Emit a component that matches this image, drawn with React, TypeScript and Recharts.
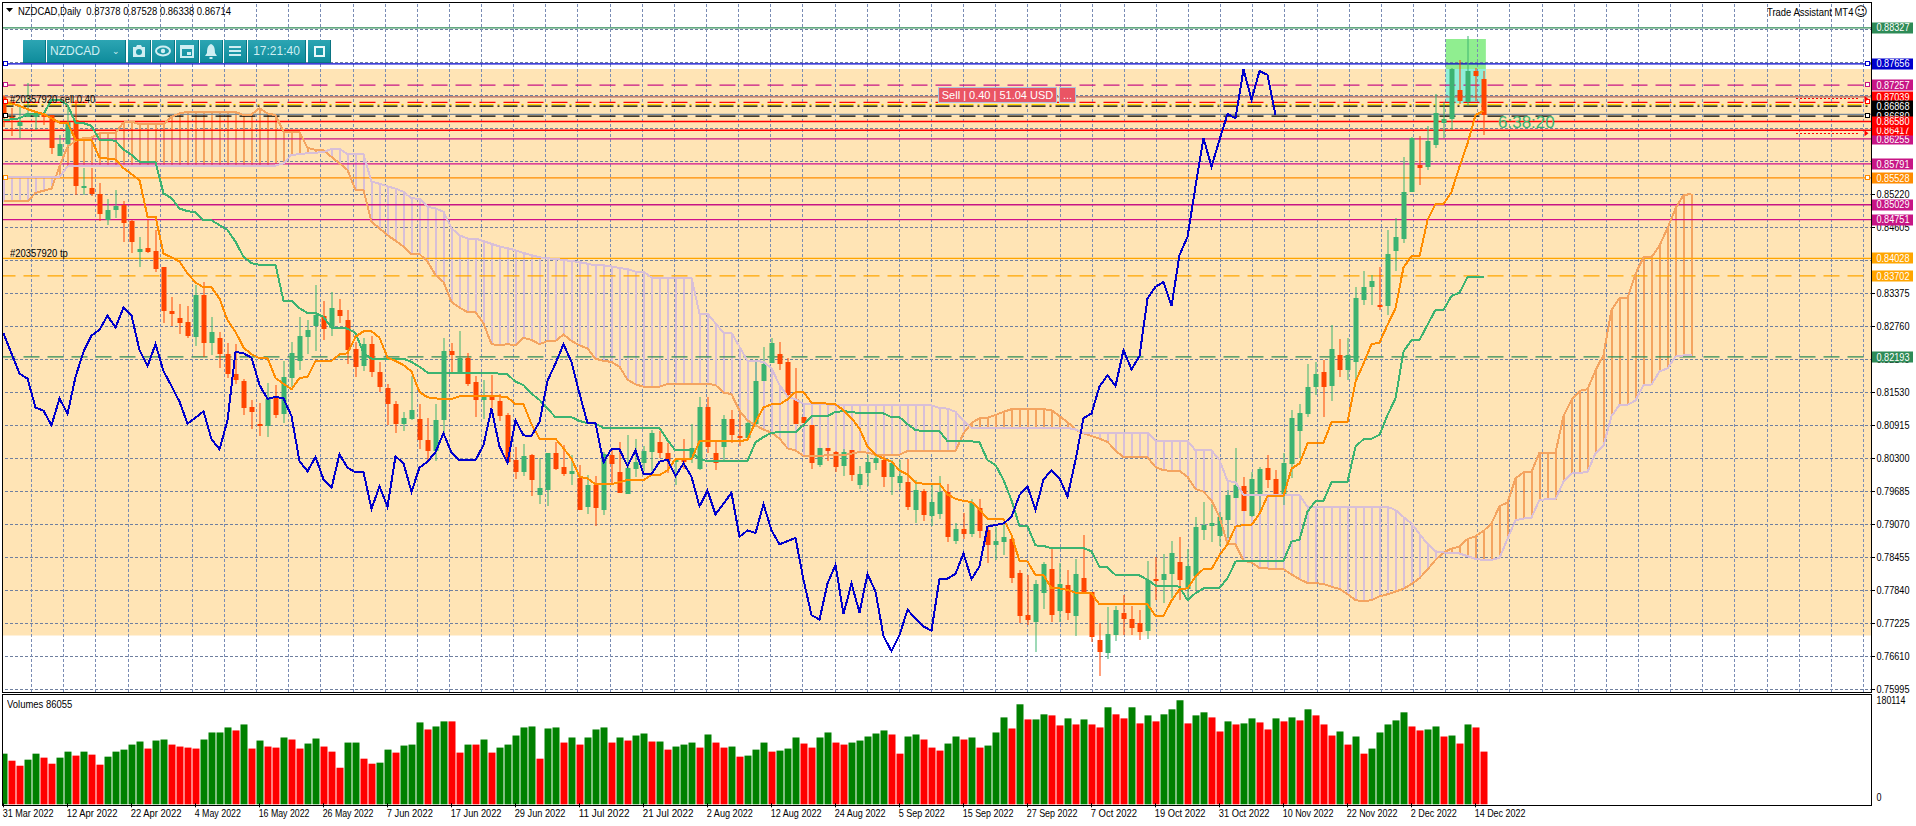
import React from 'react';
import { ComposedChart, Bar, Line, XAxis, YAxis, ReferenceLine, ReferenceArea, ReferenceDot, Cell } from 'recharts';

// all prices below are in 1/10000 units (8704 = 0.8704)
const opens = [
  8704,8667,8650,8667,8666,8670,8671,8594,8616,8661,
  8534,8535,8523,8474,8494,8502,8473,8415,8422,8417,
  8387,8305,8291,8284,8257,8334,8246,8255,8224,8188,
  8175,8126,8094,8091,8144,8113,8180,8212,8256,8277,
  8295,8274,8306,8289,8234,8202,8244,8192,8162,8132,
  8095,8103,8103,8065,8044,8101,8230,8188,8217,8172,
  8139,8145,8137,8111,8027,8005,8036,7962,7971,8040,
  8014,8001,7993,7939,7980,7934,8036,8004,7963,8010,
  8021,8042,8060,8040,8024,8028,8030,8010,8126,8040,
  8052,8103,8072,8068,8095,8174,8208,8224,8210,8140,
  8107,8092,8018,8049,8042,8016,8045,7980,8003,8021,
  8027,7995,7984,7986,7934,7969,7923,7926,7967,7876,
  7898,7889,7937,7896,7868,7874,7880,7816,7738,7726,
  7779,7825,7745,7794,7737,7807,7782,7692,7668,7701,
  7743,7731,7723,7709,7806,7804,7814,7837,7786,7811,
  7896,7904,7885,7916,7957,7978,7923,7964,8012,7991,
  7960,8019,8081,8113,8163,8191,8165,8223,8195,8210,
  8325,8350,8316,8314,8417,8439,8527,8577,8574,8614,
  8656,8662,8717,8695,8752,8738,
];
const highs = [
  8707,8683,8686,8729,8674,8673,8671,8633,8686,8698,
  8571,8571,8544,8513,8530,8509,8474,8443,8474,8456,
  8387,8331,8318,8314,8353,8359,8293,8265,8246,8244,
  8179,8139,8134,8170,8167,8211,8247,8293,8288,8353,
  8323,8341,8328,8306,8247,8254,8259,8209,8169,8137,
  8116,8183,8131,8105,8131,8254,8246,8267,8226,8183,
  8176,8185,8151,8114,8052,8057,8038,8030,8040,8061,
  8055,8037,8018,7999,7997,8042,8049,8060,8073,8066,
  8054,8084,8081,8058,8030,8066,8094,8144,8144,8061,
  8111,8120,8120,8101,8216,8237,8254,8247,8218,8198,
  8107,8092,8049,8049,8044,8047,8045,8016,8037,8036,
  8039,8027,8027,8029,7990,7974,7983,7997,7983,7910,
  7929,7955,7954,7903,7903,7908,7885,7822,7813,7804,
  7838,7862,7836,7822,7842,7887,7782,7723,7754,7755,
  7776,7755,7748,7839,7847,7852,7877,7884,7862,7921,
  7949,7946,7931,7971,8050,7995,8005,8014,8036,8009,
  8041,8120,8131,8206,8210,8213,8278,8252,8254,8350,
  8380,8372,8387,8456,8479,8591,8630,8631,8650,8709,
  8695,8757,8773,8817,8757,8753,
];
const lows = [
  8648,8630,8627,8667,8642,8650,8599,8594,8608,8521,
  8521,8518,8474,8465,8478,8432,8412,8387,8412,8378,
  8283,8277,8262,8254,8239,8219,8223,8197,8181,8169,
  8111,8085,8072,8070,8106,8096,8163,8195,8224,8230,
  8250,8259,8283,8206,8182,8193,8182,8154,8092,8078,
  8080,8101,8047,8026,8024,8077,8190,8188,8165,8106,
  8103,8123,8101,8022,7993,7998,7960,7945,7942,8008,
  7997,7982,7934,7926,7904,7924,7983,7965,7963,7995,
  8008,8008,8030,8002,7980,8011,8021,8008,8039,8008,
  8027,8058,8052,8068,8089,8174,8208,8195,8148,8094,
  8095,8010,8014,8025,8004,7996,7988,7973,7980,8008,
  7978,7962,7971,7934,7909,7915,7904,7916,7875,7870,
  7880,7884,7881,7835,7842,7850,7797,7723,7720,7670,
  7751,7726,7726,7728,7699,7779,7689,7625,7658,7689,
  7701,7701,7692,7694,7766,7760,7770,7766,7766,7785,
  7878,7876,7867,7881,7957,7932,7922,7930,7974,7960,
  7945,7994,8030,8108,8149,8106,8136,8182,8176,8176,
  8316,8316,8307,8297,8380,8431,8527,8540,8568,8608,
  8628,8642,8691,8686,8695,8634,
];
const closes = [
  8670,8662,8658,8673,8670,8667,8609,8616,8658,8537,
  8537,8523,8486,8494,8500,8468,8434,8420,8414,8384,
  8305,8300,8283,8259,8334,8246,8265,8225,8188,8176,
  8124,8116,8090,8140,8111,8181,8226,8258,8270,8297,
  8271,8311,8296,8232,8201,8244,8191,8164,8131,8095,
  8105,8120,8064,8044,8101,8230,8223,8217,8169,8139,
  8146,8139,8109,8024,8005,8034,7990,7975,8040,8011,
  8001,8006,7934,7980,7937,8039,8019,7965,8012,8024,
  8044,8077,8040,8026,8027,8026,8050,8126,8052,8022,
  8103,8073,8070,8097,8174,8207,8245,8206,8148,8094,
  8096,8021,8049,8044,8014,8042,7999,8001,8023,8030,
  7995,8021,7997,7939,7971,7924,7949,7967,7884,7898,
  7889,7947,7895,7868,7876,7883,7808,7737,7729,7796,
  7834,7738,7797,7743,7815,7782,7697,7670,7703,7748,
  7731,7715,7707,7804,7804,7815,7853,7804,7829,7903,
  7906,7909,7921,7962,7980,7932,7991,8010,7990,7960,
  8021,8105,8114,8163,8187,8163,8234,8195,8223,8329,
  8349,8361,8313,8411,8443,8527,8627,8572,8622,8673,
  8662,8756,8696,8752,8743,8671,
];
const tenkan = [
  8692,8692,8687,8681,8676,8672,8664,8656,8656,8624,
  8624,8624,8591,8589,8587,8571,8560,8549,8481,8481,
  8412,8405,8397,8375,8358,8349,8349,8328,8288,8266,
  8237,8224,8217,8217,8180,8169,8159,8180,8182,8212,
  8212,8212,8224,8226,8257,8267,8267,8255,8218,8212,
  8204,8192,8154,8144,8142,8141,8141,8146,8146,8146,
  8146,8146,8146,8144,8131,8131,8094,8067,8067,8067,
  8049,8030,7996,7993,7982,7982,7982,7986,7990,7990,
  7990,7999,7999,8008,8029,8029,8029,8062,8062,8062,
  8062,8062,8062,8065,8098,8125,8131,8131,8140,8154,
  8154,8134,8134,8132,8131,8120,8105,8086,8052,8037,
  8030,8024,8008,8000,7985,7983,7983,7983,7963,7955,
  7951,7949,7935,7918,7918,7917,7887,7839,7838,7813,
  7813,7788,7788,7785,7780,7780,7779,7758,7758,7758,
  7758,7758,7758,7758,7737,7737,7765,7786,7788,7810,
  7824,7824,7850,7870,7903,7906,7906,7927,7960,7960,
  7960,8011,8021,8058,8059,8059,8098,8098,8098,8173,
  8207,8243,8246,8279,8310,8386,8407,8407,8474,8504,
  8504,8527,8574,8617,8670,8678,
];
const kijun = [
  8661,8662,8664,8672,8672,8672,8698,8698,8689,8656,
  8655,8650,8624,8624,8622,8606,8596,8583,8583,8583,
  8524,8515,8496,8491,8489,8474,8474,8465,8456,8434,
  8406,8394,8391,8391,8391,8324,8324,8310,8301,8301,
  8294,8274,8274,8272,8264,8226,8216,8216,8216,8216,
  8216,8210,8201,8190,8190,8190,8190,8190,8190,8190,
  8190,8190,8188,8187,8173,8167,8151,8139,8123,8107,
  8107,8107,8100,8096,8095,8087,8087,8087,8087,8087,
  8087,8087,8087,8064,8045,8045,8045,8027,8026,8026,
  8026,8026,8026,8026,8060,8070,8078,8079,8079,8079,
  8092,8109,8109,8109,8117,8118,8117,8114,8114,8114,
  8114,8107,8107,8094,8083,8081,8081,8081,8062,8062,
  8062,8062,8060,8027,8018,7990,7952,7904,7904,7868,
  7867,7863,7863,7863,7863,7863,7857,7828,7827,7813,
  7812,7812,7812,7804,7793,7793,7793,7791,7766,7779,
  7788,7789,7789,7807,7838,7839,7839,7839,7839,7839,
  7839,7875,7879,7931,7951,7951,7986,7986,7986,8052,
  8066,8067,8074,8111,8142,8229,8251,8251,8279,8307,
  8307,8333,8339,8368,8368,8368,
];
const chikou = [
  8263,8226,8188,8179,8125,8119,8092,8142,8113,8182,
  8229,8259,8270,8296,8274,8311,8297,8232,8202,8243,
  8193,8165,8136,8095,8106,8118,8066,8047,8101,8229,
  8226,8218,8167,8141,8145,8142,8109,8025,8006,8033,
  7991,7975,8038,8013,8004,8005,7936,7978,7940,8034,
  8021,7968,8013,8024,8042,8077,8041,8027,8027,8027,
  8055,8123,8052,8022,8101,8073,8072,8098,8175,8207,
  8243,8210,8151,8096,8096,8023,8048,8047,8016,8045,
  8001,8001,8024,8028,7997,8021,7996,7941,7970,7926,
  7946,7966,7884,7896,7891,7945,7896,7870,7876,7882,
  7804,7738,7730,7797,7832,7740,7797,7743,7815,7782,
  7699,7671,7701,7748,7732,7717,7709,7806,7806,7815,
  7853,7805,7829,7903,7906,7909,7921,7962,7978,7934,
  7991,8008,7993,7959,8027,8105,8114,8164,8185,8165,
  8232,8196,8221,8328,8350,8359,8314,8409,8443,8537,
  8627,8574,8624,8672,8664,8755,8699,8752,8745,8670,
];
const senkouA = [
  8509,8509,8509,8509,8525,8529,8533,8574,8611,8622,
  8627,8628,8636,8637,8637,8656,8658,8653,8653,8653,
  8653,8667,8673,8676,8676,8676,8676,8676,8676,8676,
  8670,8671,8683,8673,8670,8639,8638,8638,8609,8605,
  8605,8592,8580,8568,8530,8530,8471,8459,8446,8436,
  8425,8411,8411,8397,8372,8359,8322,8311,8303,8303,
  8282,8243,8241,8243,8241,8255,8251,8243,8249,8249,
  8261,8249,8241,8235,8216,8212,8210,8201,8177,8168,
  8164,8164,8164,8169,8169,8169,8169,8169,8169,8167,
  8153,8150,8119,8101,8092,8084,8078,8067,8049,8045,
  8035,8035,8035,8036,8036,8036,8039,8042,8041,8037,
  8036,8036,8037,8044,8044,8044,8044,8044,8044,8044,
  8077,8096,8105,8106,8111,8117,8122,8122,8122,8122,
  8122,8120,8109,8098,8084,8077,8072,8067,8061,8045,
  8032,8032,8032,8032,8014,8008,8007,8007,7996,7973,
  7968,7952,7921,7871,7870,7840,7836,7826,7825,7824,
  7824,7814,7805,7798,7798,7796,7791,7787,7777,7766,
  7764,7766,7773,7777,7782,7787,7796,7807,7823,7841,
  7855,7862,7866,7880,7885,7895,7909,7941,7948,7993,
  8004,8005,8041,8041,8041,8109,8139,8156,8159,8194,
  8223,8307,8329,8329,8374,8405,8405,8427,8459,8496,
  8521,8523,
];
const senkouB = [
  8555,8555,8555,8555,8555,8555,8555,8555,8574,8576,
  8576,8576,8576,8576,8576,8576,8576,8576,8576,8576,
  8576,8576,8576,8576,8576,8576,8576,8576,8576,8576,
  8576,8576,8576,8576,8576,8580,8596,8597,8599,8600,
  8601,8607,8607,8597,8597,8597,8546,8542,8537,8533,
  8527,8515,8514,8499,8496,8490,8459,8446,8440,8440,
  8435,8430,8425,8422,8418,8413,8409,8405,8403,8402,
  8400,8398,8396,8393,8390,8390,8388,8385,8383,8378,
  8378,8367,8367,8367,8367,8367,8367,8300,8300,8282,
  8264,8264,8238,8212,8212,8210,8198,8167,8146,8140,
  8132,8132,8132,8131,8129,8129,8129,8129,8129,8129,
  8129,8129,8129,8129,8129,8129,8129,8124,8123,8117,
  8101,8087,8087,8087,8087,8087,8087,8087,8087,8087,
  8087,8087,8087,8087,8084,8078,8078,8078,8078,8078,
  8078,8078,8078,8078,8063,8063,8063,8063,8063,8045,
  8045,8045,8027,7988,7986,7962,7962,7962,7962,7962,
  7962,7962,7962,7940,7940,7940,7940,7940,7940,7940,
  7940,7940,7940,7940,7934,7921,7909,7889,7871,7857,
  7855,7853,7853,7848,7843,7841,7841,7845,7880,7915,
  7918,7920,7953,7954,7954,7987,8002,8003,8005,8040,
  8054,8109,8130,8130,8138,8167,8168,8192,8198,8220,
  8222,8222,
];
const volumes = [
  82700,71200,63000,72900,82700,76200,66300,76200,86000,79500,
  86000,81100,64700,77800,86000,89300,97500,102500,91000,104100,
  105800,97500,94300,92600,91000,105800,117300,117300,125500,120600,
  130400,91000,104100,94300,92600,109100,105800,91000,99200,107400,
  94300,86000,59700,100800,100800,74500,66300,68000,89300,84400,
  95900,97500,133700,122200,127100,135400,135400,84400,97500,97500,
  105800,84400,92600,97500,112300,125500,127100,74500,123800,125500,
  100800,109100,97500,109100,122200,125500,100800,109100,104100,112300,
  115600,102500,102500,89300,94300,97500,100800,92600,114000,100800,
  92600,94300,77800,79500,89300,100800,86000,87700,91000,109100,
  99200,92600,109100,117300,100800,97500,100800,104100,110700,115600,
  120600,114000,82700,110700,114000,105800,92600,87700,99200,110700,
  105800,109100,92600,95900,117300,141900,123800,163300,138600,138600,
  146900,145200,128800,140300,130400,138600,130400,125500,158400,146900,
  140300,158400,132100,145200,135400,146900,155100,169900,132100,145200,
  150200,141900,118900,135400,130400,132100,140300,133700,122200,140300,
  135400,141900,137000,155100,145200,130400,112300,118900,97500,110700,
  82700,91000,117300,130400,137000,150200,127100,120600,122200,127100,
  110700,112300,99200,130400,125500,86055,
];
const volumeSides =
  'GRRGGRRGGR' + 'GRRGGGGGRG' + 'GRRRRGGGGR' + 'GRGRRGRRGG' + 'RRRGGRRGGR' + 'GGGRGGRRGR' +
  'GRGGGGGRGG' + 'RGRGGGRGRG' + 'GRGRGGGRGR' + 'RGRGGGRGGG' + 'RRGGRRGGGG' + 'GRRGGRRRGG' +
  'RGRGGGRGRG' + 'GRRGRGRRGR' + 'RGRGRGGGRG' + 'GRRGRGGRRG' + 'RGRGRRRGRG' + 'RGGGGGRRGG' + 'RGRGRR';

const dateBars = [0,8,16,24,32,40,48,56,64,72,80,88,96,104,112,120,128,136,144,152,160,168,176,184];
const dateLabels = ['31 Mar 2022','12 Apr 2022','22 Apr 2022','4 May 2022','16 May 2022','26 May 2022','7 Jun 2022','17 Jun 2022','29 Jun 2022','11 Jul 2022','21 Jul 2022','2 Aug 2022','12 Aug 2022','24 Aug 2022','5 Sep 2022','15 Sep 2022','27 Sep 2022','7 Oct 2022','19 Oct 2022','31 Oct 2022','10 Nov 2022','22 Nov 2022','2 Dec 2022','14 Dec 2022'];

const gridTicks = [0.88295,0.8768,0.87065,0.8645,0.85835,0.8522,0.84605,0.8399,0.83375,0.8276,0.82145,0.8153,0.80915,0.803,0.79685,0.7907,0.78455,0.7784,0.77225,0.7661,0.75995];
const gridTickLabels = [0.8522,0.84605,0.83375,0.8276,0.82145,0.8153,0.80915,0.803,0.79685,0.7907,0.78455,0.7784,0.77225,0.7661,0.75995];

const levelValues = [0.88327,0.87656,0.87257,0.87039,0.86938,0.86894,0.86868,0.86714,0.8668,0.8658,0.86417,0.86255,0.85791,0.85528,0.85029,0.84751,0.84028,0.83702,0.82193];
const levelStrokes = ['#2e8b57','#0000cd','#c71585','#b0605a','#ff0000','#ffd700','#000000','#778899','#000000','#ff0000','#ff0000','#c71585','#d0108c','#ff8c00','#c71585','#d0108c','#ffa500','#ffa500','#2e8b57'];
const levelDashes = ['','','16 8','','16 8','14 4 2 4','14 4 2 4','','16 8','','','','','','','','','16 8','16 8'];

const labelValues = [0.88327,0.87656,0.87257,0.87039,0.86868,0.8668,0.86255,0.86417,0.8658,0.85791,0.85528,0.85029,0.84751,0.84028,0.83702,0.82193];
const labelFills = ['#2e8b57','#0000cd','#c71585','#ff0000','#000000','#000000','#c71585','#ff0000','#ff0000','#c71585','#ff8c00','#c71585','#c71585','#ffa500','#ffa500','#2e8b57'];

const anchorValues = [0.87656,0.87257,0.86938,0.8668,0.85528];
const anchorStrokes = ['#0000cd','#c71585','#ff0000','#000000','#ff8c00'];
const arrowValues = [0.87,0.86361];

const verticalBars = [4,8,12,16,20,24,28,32,36,40,44,48,52,56,60,64,68,72,76,80,84,88,92,96,100,104,108,112,116,120,124,128,132,136,140,144,148,152,156,160,164,168,172,176,180,184,188,192,196,200,204,208,212,216,220,224,228,232];

const BAR_COUNT = 234;
const PRICE_TOP = 0.8878886;
const PRICE_BOTTOM = 0.7594841;
const VOLUME_MAX = 180114;
const FONT = '"Liberation Sans", Arial, sans-serif';

const priceRows = Array.from({ length: BAR_COUNT }, (_, i) => {
  const a = senkouA[i] !== undefined ? senkouA[i] / 10000 : undefined;
  const b = senkouB[i] !== undefined ? senkouB[i] / 10000 : undefined;
  return {
    i,
    o: opens[i] !== undefined ? opens[i] / 10000 : undefined,
    h: highs[i] !== undefined ? highs[i] / 10000 : undefined,
    l: lows[i] !== undefined ? lows[i] / 10000 : undefined,
    c: closes[i] !== undefined ? closes[i] / 10000 : undefined,
    tenkan: tenkan[i] !== undefined ? tenkan[i] / 10000 : undefined,
    kijun: kijun[i] !== undefined ? kijun[i] / 10000 : undefined,
    chikou: chikou[i] !== undefined ? chikou[i] / 10000 : undefined,
    a,
    b,
    range: opens[i] !== undefined ? [lows[i] / 10000, highs[i] / 10000] : undefined,
    cloud: a !== undefined ? [Math.min(a, b as number), Math.max(a, b as number)] : undefined,
  };
});
const volumeRows = Array.from({ length: BAR_COUNT }, (_, i) => ({ i, v: volumes[i] }));

const CandleShape = (p: any) => {
  const d = p.payload;
  if (!d || d.o === undefined || !Number.isFinite(p.y) || !Number.isFinite(p.height)) return null;
  const cx = p.x + p.width / 2;
  const span = d.h - d.l || 1e-6;
  const unit = p.height / span;
  const yo = Math.round(p.y + (d.h - d.o) * unit);
  const yc = Math.round(p.y + (d.h - d.c) * unit);
  const wt = Math.round(p.y);
  const color = d.c > d.o ? '#3cb371' : '#ff4500';
  return (
    <g>
      <rect x={cx - 0.5} y={wt} width={1} height={Math.max(Math.round(p.height), 1)} fill={color} />
      <rect x={cx - 2.5} y={Math.min(yo, yc)} width={5} height={Math.max(Math.abs(yc - yo), 2)} fill={color} />
    </g>
  );
};

const HatchShape = (p: any) => {
  const d = p.payload;
  if (!d || d.a === undefined || !Number.isFinite(p.y) || !Number.isFinite(p.height)) return null;
  const cx = p.x + p.width / 2;
  return <rect x={Math.floor(cx) - 1} y={Math.round(p.y)} width={2} height={Math.round(Math.abs(p.height))} fill={d.a > d.b ? '#f4a460' : '#d8bfd8'} />;
};

const PriceTick = (p: any) => {
  const v = p.payload.value;
  const idx = labelValues.indexOf(v);
  const lx = p.x + 0.5;
  const txt = v.toFixed(5);
  if (idx >= 0) {
    return (
      <g>
        <rect x={lx} y={Math.round(p.y) - 5.5} width={41} height={11} fill={labelFills[idx]} />
        <text x={lx + 4.5} y={p.y + 3.7} fontSize={11} fontFamily={FONT} fill="#ffffff" textLength={33} lengthAdjust="spacingAndGlyphs">{txt}</text>
      </g>
    );
  }
  if (gridTickLabels.indexOf(v) < 0) return null;
  return (
    <g>
      <rect x={lx} y={p.y - 0.5} width={3} height={1} fill="#000" />
      <text x={lx + 4.5} y={p.y + 3.7} fontSize={11} fontFamily={FONT} fill="#000" textLength={33} lengthAdjust="spacingAndGlyphs">{txt}</text>
    </g>
  );
};

const VolumeTick = (p: any) => {
  const top = p.payload.value === VOLUME_MAX;
  const txt = top ? String(VOLUME_MAX) : '0';
  return (
    <text x={p.x + 5} y={top ? p.y + 10 : p.y - 3} fontSize={11} fontFamily={FONT} fill="#000" textLength={top ? 29 : 5} lengthAdjust="spacingAndGlyphs">{txt}</text>
  );
};

const DateTick = (p: any) => {
  const k = dateBars.indexOf(p.payload.value);
  if (k < 0) return null;
  const s = dateLabels[k];
  return (
    <g>
      <rect x={p.x - 0.5} y={p.y - 1} width={1} height={4} fill="#000" />
      <text x={p.x - 0.8} y={p.y + 13} fontSize={10.5} fontFamily={FONT} fill="#000" textLength={s.length * 4.62} lengthAdjust="spacingAndGlyphs">{s}</text>
    </g>
  );
};

const AnchorShape = (shift: number, stroke: string) => (p: any) => (
  <rect x={p.cx + shift - 2} y={Math.round(p.cy) - 2.5} width={4} height={4} fill="#fff" stroke={stroke} strokeWidth={1} />
);
const ArrowShape = (p: any) => (
  <path d={`M${p.cx - 3} ${p.cy - 3}L${p.cx + 1} ${p.cy}L${p.cx - 3} ${p.cy + 3}Z`} fill="#ff0000" />
);

const btn = (left: number, width: number): React.CSSProperties => ({
  position: 'absolute', left, top: 0, width, height: 23,
  background: 'linear-gradient(#2ca5b3,#0f8c9c)',
  borderRight: '1px solid #0b7482', borderBottom: '1px solid #0b7482', boxSizing: 'border-box',
  color: '#cfeef2', fontFamily: FONT, fontSize: 12, lineHeight: '23px', textAlign: 'center',
});
const labelStyle: React.CSSProperties = { position: 'absolute', fontFamily: FONT, fontSize: 11, color: '#000', whiteSpace: 'nowrap', lineHeight: '12px', transform: 'scaleX(0.86)', transformOrigin: '0 50%' };

const Icon = ({ children }: any) => (
  <svg width="22" height="23" viewBox="0 0 22 23" style={{ display: 'block' }}>{children}</svg>
);

const priceMargin = { top: 3, right: 44.5, bottom: 8, left: 9.5 };
const layer: React.CSSProperties = { position: 'absolute', left: -10, top: 0 };
const crisp = { shapeRendering: 'crispEdges' } as any;
const GRID_H = '#6f7f9f';
const GRID_V = '#7a8cb4';

export default function App() {
  return (
    <div style={{ position: 'absolute', left: 0, top: 0, width: 1916, height: 826, background: '#fff', overflow: 'hidden' }}>
      {/* background and grid */}
      <div style={layer}>
        <ComposedChart width={1926} height={700} data={priceRows} margin={priceMargin}>
          <XAxis dataKey="i" hide />
          <YAxis hide domain={[PRICE_BOTTOM, PRICE_TOP]} allowDataOverflow />
          <ReferenceArea y1={0.77} y2={0.87559} fill="#ffe4b5" fillOpacity={1} stroke="none" />
          <ReferenceArea x1={180} x2={185} y1={0.87559} y2={0.88118} fill="#90ee90" fillOpacity={1} stroke="none" />
          <ReferenceArea x1={180} x2={185} y1={0.8692} y2={0.87559} fill="#90eed8" fillOpacity={1} stroke="none" />
          {gridTicks.map((v) => (
            <ReferenceLine key={'h' + v} y={v} stroke={GRID_H} strokeDasharray="3 2" {...crisp} />
          ))}
          {verticalBars.map((b) => (
            <ReferenceLine key={'v' + b} x={b} stroke={GRID_V} strokeDasharray="3 2" {...crisp} />
          ))}
        </ComposedChart>
      </div>

      {/* cloud hatching and price levels */}
      <div style={layer}>
        <ComposedChart width={1926} height={700} data={priceRows} margin={priceMargin} barSize={5}>
          <XAxis dataKey="i" hide />
          <YAxis hide domain={[PRICE_BOTTOM, PRICE_TOP]} allowDataOverflow />
          <Bar dataKey="cloud" shape={HatchShape} isAnimationActive={false} />
          {levelValues.map((v, k) => (
            <ReferenceLine key={'l' + v} y={v} stroke={levelStrokes[k]} strokeWidth={1.3} strokeDasharray={levelDashes[k] || undefined} />
          ))}
          {arrowValues.map((v) => (
            <ReferenceLine key={'a' + v} segment={[{ x: 224, y: v }, { x: 232, y: v }]} stroke="#ff0000" strokeDasharray="2 2" {...crisp} />
          ))}
        </ComposedChart>
      </div>

      {/* candles, indicator lines, price axis */}
      <div style={layer}>
        <ComposedChart width={1926} height={700} data={priceRows} margin={{ top: 3, right: 0, bottom: 8, left: 9.5 }} barSize={5}>
          <XAxis dataKey="i" hide />
          <YAxis orientation="right" width={44.5} domain={[PRICE_BOTTOM, PRICE_TOP]} allowDataOverflow ticks={[...gridTicks, ...labelValues]} interval={0} tick={PriceTick} tickLine={false} axisLine={false} tickSize={0} tickMargin={0} />
          <Bar dataKey="range" shape={CandleShape} isAnimationActive={false} />
          <Line dataKey="a" stroke="#f4a460" strokeWidth={2} dot={false} isAnimationActive={false} {...crisp} />
          <Line dataKey="b" stroke="#d8bfd8" strokeWidth={2} dot={false} isAnimationActive={false} {...crisp} />
          <Line dataKey="kijun" stroke="#3cb371" strokeWidth={2} dot={false} isAnimationActive={false} {...crisp} />
          <Line dataKey="tenkan" stroke="#ff8c00" strokeWidth={2} dot={false} isAnimationActive={false} {...crisp} />
          <Line dataKey="chikou" stroke="#0000cd" strokeWidth={2} dot={false} isAnimationActive={false} {...crisp} />
          {anchorValues.map((v, k) => (
            <ReferenceDot key={'ld' + v} x={0} y={v} r={2} shape={AnchorShape(2, anchorStrokes[k])} />
          ))}
          {anchorValues.map((v, k) => (
            <ReferenceDot key={'rd' + v} x={233} y={v} r={2} shape={AnchorShape(0, anchorStrokes[k])} />
          ))}
          {arrowValues.map((v) => (
            <ReferenceDot key={'ad' + v} x={233} y={v} r={2} shape={ArrowShape} />
          ))}
        </ComposedChart>
      </div>

      {/* volume grid */}
      <div style={{ position: 'absolute', left: -10, top: 694 }}>
        <ComposedChart width={1926} height={132} data={volumeRows} margin={{ top: 0, right: 44.5, bottom: 21.7, left: 9.5 }}>
          <XAxis dataKey="i" hide />
          <YAxis hide domain={[0, VOLUME_MAX]} />
          {verticalBars.map((b) => (
            <ReferenceLine key={'vv' + b} x={b} stroke="#778899" strokeDasharray="3 2" {...crisp} />
          ))}
        </ComposedChart>
      </div>

      {/* volume bars and date axis */}
      <div style={{ position: 'absolute', left: -10, top: 694 }}>
        <ComposedChart width={1926} height={132} data={volumeRows} margin={{ top: 0, right: 0, bottom: 0, left: 9.5 }} barSize={7}>
          <XAxis dataKey="i" ticks={dateBars} interval={0} height={21.7} tick={DateTick} tickLine={false} axisLine={false} tickSize={0} tickMargin={0} />
          <YAxis orientation="right" width={44.5} domain={[0, VOLUME_MAX]} ticks={[0, VOLUME_MAX]} interval={0} tick={VolumeTick} tickLine={false} axisLine={false} tickSize={0} tickMargin={0} />
          <Bar dataKey="v" isAnimationActive={false}>
            {volumeRows.map((r) => (
              <Cell key={r.i} fill={volumeSides[r.i] === 'G' ? '#008000' : '#ff0000'} />
            ))}
          </Bar>
        </ComposedChart>
      </div>

      {/* window frame */}
      <div style={{ position: 'absolute', left: 0, top: 0, width: 2, height: 806, background: '#fff' }} />
      <div style={{ position: 'absolute', left: 2, top: 2, width: 1868, height: 689, border: '1px solid #000' }} />
      <div style={{ position: 'absolute', left: 2, top: 694, width: 1868, height: 110, border: '1px solid #000' }} />

      {/* header texts */}
      <svg style={{ position: 'absolute', left: 6, top: 8 }} width="8" height="5"><path d="M0 0H7L3.5 4Z" fill="#000" /></svg>
      <div style={{ ...labelStyle, left: 18, top: 5 }}>NZDCAD,Daily&nbsp; 0.87378 0.87528 0.86338 0.86714</div>
      <div style={{ ...labelStyle, left: 1767, top: 6 }}>Trade Assistant MT4</div>
      <div style={{ ...labelStyle, left: 1854, top: 5, fontFamily: '"DejaVu Sans"', fontSize: 13, lineHeight: '14px', transform: 'none' }}>☺</div>
      <div style={{ ...labelStyle, left: 10, top: 93 }}>#20357920 sell 0.40</div>
      <div style={{ ...labelStyle, left: 10, top: 247 }}>#20357920 tp</div>
      <div style={{ ...labelStyle, left: 7, top: 698 }}>Volumes 86055</div>
      <div style={{ ...labelStyle, left: 1498, top: 114, fontSize: 17, lineHeight: '18px', color: '#3cb371', transform: 'none' }}>6:38:20</div>

      {/* trade button */}
      <div style={{ position: 'absolute', left: 938, top: 87, width: 119, height: 16, background: '#ea5464', border: '1px solid #b0c4de', boxSizing: 'border-box', color: '#fff', fontFamily: FONT, fontSize: 11, lineHeight: '14px', textAlign: 'center', whiteSpace: 'nowrap' }}>Sell | 0.40 | 51.04 USD</div>
      <div style={{ position: 'absolute', left: 1059, top: 87, width: 17, height: 16, background: '#ea5464', border: '1px solid #b0c4de', boxSizing: 'border-box', color: '#fff', fontFamily: FONT, fontSize: 11, lineHeight: '14px', textAlign: 'center' }}>...</div>

      {/* toolbar */}
      <div style={{ position: 'absolute', left: 23, top: 40, width: 308, height: 23 }}>
        <div style={btn(0, 23)} />
        <div style={{ ...btn(24, 79), textAlign: 'left', paddingLeft: 3 }}>NZDCAD<span style={{ position: 'absolute', right: 5, fontSize: 9 }}>⌄</span></div>
        <div style={btn(105, 23)}><Icon><path d="M5 7H8L9 5H13L14 7H17V17H5Z" fill="#cfeef2" /><circle cx="11" cy="12" r="3" fill="#1a97a6" /></Icon></div>
        <div style={btn(129, 23)}><Icon><ellipse cx="11" cy="11" rx="7" ry="4.5" fill="none" stroke="#cfeef2" strokeWidth="2" /><circle cx="11" cy="11" r="2.2" fill="#cfeef2" /></Icon></div>
        <div style={btn(153, 23)}><Icon><rect x="5" y="6" width="12" height="11" fill="none" stroke="#cfeef2" strokeWidth="2" /><rect x="5" y="6" width="12" height="3" fill="#cfeef2" /><rect x="11" y="12" width="4" height="3" fill="#cfeef2" /></Icon></div>
        <div style={btn(177, 23)}><Icon><path d="M11 4C8 5 7 8 7 13L5 16H17L15 13C15 8 14 5 11 4Z" fill="#cfeef2" /><rect x="9.5" y="17" width="3" height="2" fill="#cfeef2" /></Icon></div>
        <div style={btn(201, 23)}><Icon><path d="M5 7H17M5 11H17M5 15H17" stroke="#cfeef2" strokeWidth="2" /></Icon></div>
        <div style={btn(225, 58)}>17:21:40</div>
        <div style={btn(285, 23)}><Icon><rect x="7" y="7" width="9" height="9" fill="none" stroke="#e8f8fa" strokeWidth="2" /></Icon></div>
      </div>
    </div>
  );
}
